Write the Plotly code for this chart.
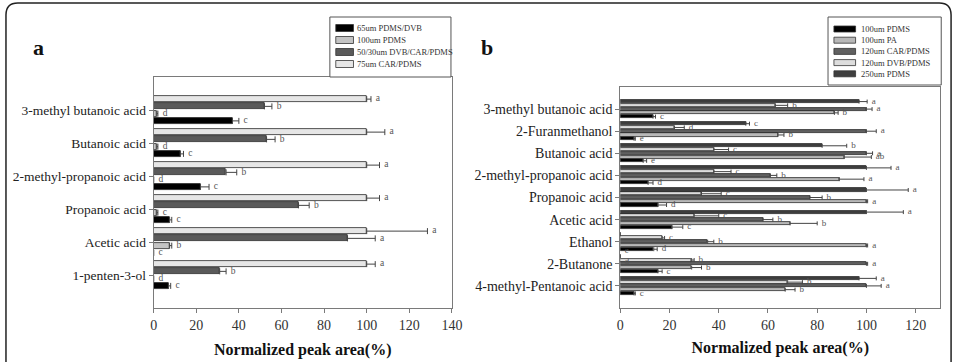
import plotly.graph_objects as go

W, H = 967, 362
SERIF = "Liberation Serif, Times New Roman, serif"

# ---------------- Panel a data (categories listed top -> bottom) ----------------
cats_a = ["3-methyl butanoic acid", "Butanoic acid", "2-methyl-propanoic acid",
          "Propanoic acid", "Acetic acid", "1-penten-3-ol"]
series_a = ["65um PDMS/DVB", "100um PDMS", "50/30um DVB/CAR/PDMS", "75um CAR/PDMS"]
colors_a = ["#000000", "#c4c4c4", "#5a5a5a", "#e6e6e6"]

a_65_val = [37, 12.5, 22, 7.5, 0, 7]
a_65_err = [3, 1.5, 4, 1, 0, 1]
a_65_lbl = ["c", "c", "c", "c", "c", "c"]
a_100_val = [1.5, 1.5, 0, 1.5, 7.5, 0]
a_100_err = [0.5, 0.5, 0, 0.5, 1, 0]
a_100_lbl = ["d", "d", "d", "c", "b", "d"]
a_5030_val = [52, 53, 34, 68, 91, 31]
a_5030_err = [3.5, 4, 5, 5, 13, 3]
a_5030_lbl = ["b", "b", "b", "b", "a", "b"]
a_75_val = [100, 100, 100, 100, 100, 100]
a_75_err = [2, 8.5, 6, 6, 28.5, 4]
a_75_lbl = ["a", "a", "a", "a", "a", "a"]

# ---------------- Panel b data (categories listed top -> bottom) ----------------
cats_b = ["3-methyl butanoic acid", "2-Furanmethanol", "Butanoic acid",
          "2-methyl-propanoic acid", "Propanoic acid", "Acetic acid",
          "Ethanol", "2-Butanone", "4-methyl-Pentanoic acid"]
series_b = ["100um PDMS", "100um PA", "120um CAR/PDMS", "120um DVB/PDMS", "250um PDMS"]
colors_b = ["#000000", "#b8b8b8", "#606060", "#dddddd", "#3e3e3e"]

b_pdms100_val = [13.3, 5.6, 9.3, 11.3, 15.3, 21, 13.6, 15.3, 5.6]
b_pdms100_err = [1, 0.5, 1.4, 2, 3.5, 4.4, 1.4, 1.7, 0.5]
b_pdms100_lbl = ["c", "e", "e", "d", "d", "c", "d", "c", "c"]
b_pa_val = [87, 64, 91, 89, 100, 69, 100, 29, 67]
b_pa_err = [1.5, 2.5, 11, 10, 0.5, 11, 0.5, 4, 4]
b_pa_lbl = ["b", "b", "ab", "a", "a", "b", "a", "b", "b"]
b_car_val = [100, 100, 100, 61, 77, 58, 35.5, 100, 100]
b_car_err = [2.3, 4, 2.5, 2.6, 5, 4, 2.5, 0.5, 6]
b_car_lbl = ["a", "a", "a", "b", "b", "b", "b", "a", "a"]
b_dvb_val = [63, 22, 38, 38, 33, 30, 17, 29, 68]
b_dvb_err = [5, 4, 6, 7, 8, 10, 1, 1, 6]
b_dvb_lbl = ["b", "d", "c", "c", "c", "c", "c", "b", "b"]
b_pdms250_val = [97, 51, 82, 100, 100, 100, 0, 0, 97]
b_pdms250_err = [3.3, 1.5, 10, 10, 17, 15, 0, 0, 7]
b_pdms250_lbl = ["a", "c", "b", "a", "a", "a", "", "e<br>d", "a"]

x_title = "Normalized peak area(%)"
NB = "\u00a0\u00a0"


def rx(x):
    return x / W


def ry(y):
    return 1 - y / H


fig = go.Figure()


def add_panel(cats, names, colors, vals, errs, lbls, slot, bw, xa, ya, capw, lblsize):
    n = len(cats)
    k_n = len(names)
    for k in range(k_n):
        v = list(reversed(vals[k]))
        e = list(reversed(errs[k]))
        t = [(NB + s.replace("<br>", "<br>" + NB)) if s else "" for s in reversed(lbls[k])]
        ys = [i + (k - (k_n - 1) / 2) * slot for i in range(n)]
        fig.add_trace(go.Bar(
            x=v, y=ys, orientation="h", width=bw, name=names[k],
            marker=dict(color=colors[k], line=dict(color="#2a2a2a", width=0.8)),
            error_x=dict(type="data", array=e, arrayminus=[0] * n, symmetric=False,
                         color="#444444", thickness=1, width=capw),
            xaxis=xa, yaxis=ya, showlegend=False))
        fig.add_trace(go.Scatter(
            x=[a + b for a, b in zip(v, e)], y=ys, mode="text", text=t,
            textposition="middle right",
            textfont=dict(family=SERIF, size=lblsize, color="#555555"),
            xaxis=xa, yaxis=ya, showlegend=False, hoverinfo="skip"))


add_panel(cats_a, series_a, colors_a,
          [a_65_val, a_100_val, a_5030_val, a_75_val],
          [a_65_err, a_100_err, a_5030_err, a_75_err],
          [a_65_lbl, a_100_lbl, a_5030_lbl, a_75_lbl],
          0.22, 0.18, "x", "y", 3, 9.5)
add_panel(cats_b, series_b, colors_b,
          [b_pdms100_val, b_pa_val, b_car_val, b_dvb_val, b_pdms250_val],
          [b_pdms100_err, b_pa_err, b_car_err, b_dvb_err, b_pdms250_err],
          [b_pdms100_lbl, b_pa_lbl, b_car_lbl, b_dvb_lbl, b_pdms250_lbl],
          0.17, 0.14, "x2", "y2", 2, 9)

axis_common = dict(showline=True, linecolor="#7a7a7a", linewidth=1, mirror=True,
                   showgrid=False, zeroline=False, ticks="outside", ticklen=4,
                   tickcolor="#7a7a7a")

fig.update_layout(
    width=W, height=H, margin=dict(l=0, r=0, t=0, b=0),
    paper_bgcolor="white", plot_bgcolor="white",
    bargap=0,
    xaxis=dict(domain=[rx(152), rx(455)], range=[0, 140], dtick=20, anchor="y",
               tickfont=dict(family=SERIF, size=14, color="#333"),
               title=dict(text=x_title, standoff=12,
                          font=dict(family=SERIF, size=16, color="#111", weight="bold")),
               **axis_common),
    yaxis=dict(domain=[ry(308), ry(77)], range=[-1, len(cats_a)], anchor="x",
               tickvals=list(range(len(cats_a))), ticktext=list(reversed(cats_a)),
               tickfont=dict(family=SERIF, size=13.5, color="#222"),
               **axis_common),
    xaxis2=dict(domain=[rx(626), rx(951)], range=[0, 130], dtick=20, anchor="y2",
                tickfont=dict(family=SERIF, size=14, color="#333"),
                title=dict(text=x_title, standoff=10,
                           font=dict(family=SERIF, size=16, color="#111", weight="bold")),
                **axis_common),
    yaxis2=dict(domain=[ry(308), ry(87)], range=[-1, len(cats_b)], anchor="x2",
                tickvals=list(range(len(cats_b))), ticktext=list(reversed(cats_b)),
                tickfont=dict(family=SERIF, size=14, color="#222"),
                **axis_common),
)

shapes = []
annotations = []

# outer rounded frame
r = 12
path = (f"M {rx(2)},{ry(400)} L {rx(2)},{ry(3 + r)} Q {rx(2)},{ry(3)} {rx(2 + r)},{ry(3)} "
        f"L {rx(962 - r)},{ry(3)} Q {rx(962)},{ry(3)} {rx(962)},{ry(3 + r)} L {rx(962)},{ry(400)}")
shapes.append(dict(type="path", xref="paper", yref="paper", path=path,
                   line=dict(color="#222", width=1.5)))

# panel letters
annotations.append(dict(x=rx(27), y=ry(33), xref="paper", yref="paper", text="a",
                        showarrow=False, font=dict(family=SERIF, size=22, color="#111", weight="bold")))
annotations.append(dict(x=rx(491), y=ry(33), xref="paper", yref="paper", text="b",
                        showarrow=False, font=dict(family=SERIF, size=22, color="#111", weight="bold")))


def draw_legend(names, colors, box, sw_x, sw_w, sw_h, txt_x, y0, dy, fsize):
    x0, y_top, x1, y_bot = box
    shapes.append(dict(type="rect", xref="paper", yref="paper",
                       x0=rx(x0), x1=rx(x1), y0=ry(y_bot), y1=ry(y_top),
                       line=dict(color="#555", width=1), fillcolor="white"))
    for k, (nm, c) in enumerate(zip(names, colors)):
        yc = y0 + k * dy
        shapes.append(dict(type="rect", xref="paper", yref="paper",
                           x0=rx(sw_x), x1=rx(sw_x + sw_w),
                           y0=ry(yc + sw_h / 2), y1=ry(yc - sw_h / 2),
                           line=dict(color="#333", width=0.8), fillcolor=c))
        annotations.append(dict(x=rx(txt_x), y=ry(yc), xref="paper", yref="paper",
                                text=nm, showarrow=False, xanchor="left", yanchor="middle",
                                font=dict(family=SERIF, size=fsize, color="#333")))


draw_legend(series_a, colors_a, (331, 17, 454, 77), 337, 18, 7, 357, 28, 12, 8.5)
draw_legend(series_b, colors_b, (837, 17, 952, 85), 843, 22, 6, 868, 29, 11.2, 8.5)

fig.update_layout(shapes=shapes, annotations=annotations)
fig.write_html("out.html")
